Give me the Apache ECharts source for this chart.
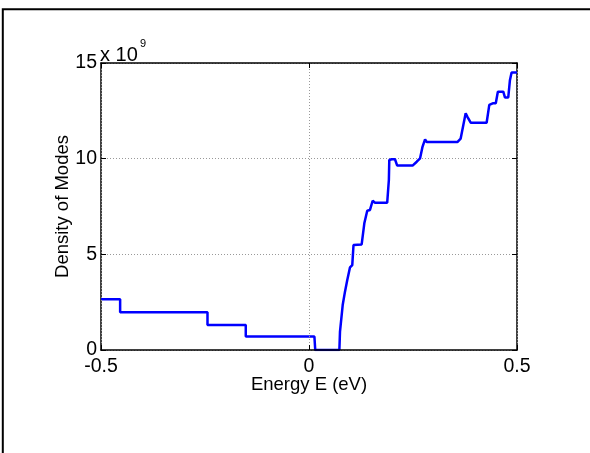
<!DOCTYPE html>
<html>
<head>
<meta charset="utf-8">
<script src="https://cdn.jsdelivr.net/npm/echarts@6/dist/echarts.min.js"></script>
<style>
html,body{margin:0;padding:0;background:#fff;}
#chart{width:590px;height:453px;}
</style>
</head>
<body>
<div id="chart"></div>
<script>
// Energy (eV)
var energy = [-0.5, -0.454, -0.454, -0.244, -0.244, -0.152, -0.152, 0.013, 0.015, 0.073,
  0.0745, 0.081, 0.0865, 0.092, 0.0986, 0.104, 0.107, 0.1266, 0.133, 0.140,
  0.1466, 0.153, 0.1587, 0.188, 0.192, 0.193, 0.1987, 0.2067, 0.212, 0.249,
  0.259, 0.267, 0.273, 0.279, 0.283, 0.3566, 0.3646, 0.371, 0.3766, 0.3815,
  0.3887, 0.427, 0.4334, 0.443, 0.449, 0.454, 0.467, 0.471, 0.479, 0.483,
  0.487, 0.5];
// Density of modes (x 10^9)
var density = [2.65, 2.65, 1.97, 1.97, 1.31, 1.31, 0.70, 0.70, 0, 0,
  0.96, 2.35, 3.05, 3.66, 4.32, 4.44, 5.49, 5.52, 6.62, 7.28,
  7.32, 7.80, 7.70, 7.70, 8.89, 9.93, 9.97, 9.97, 9.64, 9.64,
  9.84, 10.02, 10.63, 11.01, 10.87, 10.87, 11.05, 11.76, 12.37, 12.16,
  11.88, 11.88, 12.81, 12.9, 12.9, 13.5, 13.5, 13.2, 13.2, 14.1,
  14.5, 14.5];
var xTicks = [-0.5, 0, 0.5];
var yTicks = [0, 5, 10, 15];
var xLabel = 'Energy E (eV)';
var yLabel = 'Density of Modes';
var scaleBase = 'x 10';
var scaleExp = '9';

var FONT = 'Liberation Sans, Arial, Helvetica, sans-serif';
var chart = echarts.init(document.getElementById('chart'));
var pts = energy.map(function(e, i){ return [e, density[i]]; });

function axisCommon(){
  return {
    axisLine: {show: true, onZero: false, lineStyle: {color: '#000', width: 1.5}},
    axisTick: {show: true, inside: true, length: 5, lineStyle: {color: '#000', width: 1}}
  };
}

chart.setOption({
  animation: false,
  backgroundColor: '#fff',
  grid: {left: 101, right: 73, top: 63, bottom: 103, containLabel: false, outerBoundsMode: 'none'},
  xAxis: [
    Object.assign({
      type: 'value', min: xTicks[0], max: xTicks[xTicks.length-1], interval: 0.5,
      position: 'bottom', z: 5,
      name: xLabel, nameLocation: 'middle', nameGap: 25, nameMoveOverlap: false,
      nameTextStyle: {fontFamily: FONT, fontSize: 18.5, color: '#000'},
      axisLabel: {margin: 7, fontFamily: FONT, fontSize: 19.5, color: '#000',
        formatter: function(v){ return String(v); }},
      splitLine: {show: true, lineStyle: {color: '#999', type: [1, 2], width: 1}}
    }, axisCommon()),
    Object.assign({
      type: 'value', min: xTicks[0], max: xTicks[xTicks.length-1], interval: 0.5,
      position: 'top', z: 5, axisLabel: {show: false}, splitLine: {show: false}
    }, axisCommon())
  ],
  yAxis: [
    Object.assign({
      type: 'value', min: yTicks[0], max: yTicks[yTicks.length-1], interval: 5,
      position: 'left',
      name: yLabel, nameLocation: 'middle', nameGap: 29, nameRotate: 90, nameMoveOverlap: false,
      nameTextStyle: {fontFamily: FONT, fontSize: 18.5, color: '#000'},
      axisLabel: {margin: 4, fontFamily: FONT, fontSize: 19.5, color: '#000'},
      splitLine: {show: true, lineStyle: {color: '#999', type: [1, 2], width: 1}}
    }, axisCommon()),
    Object.assign({
      type: 'value', min: yTicks[0], max: yTicks[yTicks.length-1], interval: 5,
      position: 'right', axisLabel: {show: false}, splitLine: {show: false}
    }, axisCommon())
  ],
  series: [{
    type: 'line', data: pts, showSymbol: false, symbol: 'none',
    lineStyle: {color: '#0000ff', width: 2.5}, z: 1
  }],
  graphic: [
    {type: 'rect', shape: {x: 2.8, y: 9.3, width: 700, height: 700},
      style: {fill: null, stroke: '#000', lineWidth: 2}, z: -1},
    {type: 'text', x: 100, y: 45, style: {text: scaleBase, fontFamily: FONT, fontSize: 20, fill: '#000', verticalAlign: 'top'}},
    {type: 'text', x: 140, y: 38, style: {text: scaleExp, fontFamily: FONT, fontSize: 11, fill: '#000', verticalAlign: 'top'}}
  ]
});
</script>
</body>
</html>
